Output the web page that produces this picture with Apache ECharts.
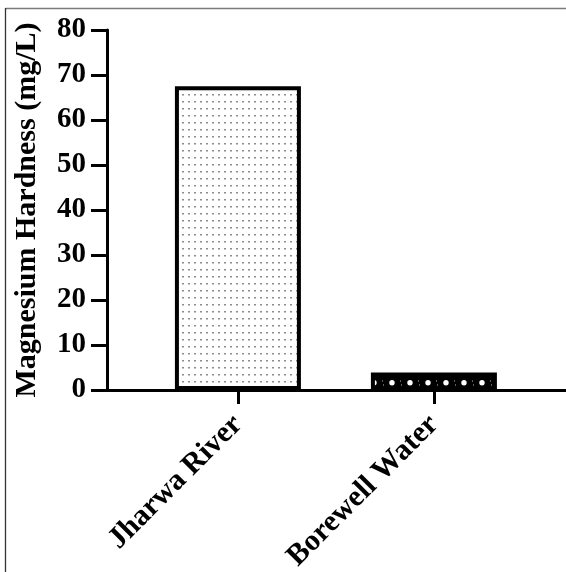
<!DOCTYPE html>
<html>
<head>
<meta charset="utf-8">
<script src="https://cdn.jsdelivr.net/npm/echarts@6/dist/echarts.min.js"></script>
<style>
  html, body { margin: 0; padding: 0; background: #fff; }
  #chart { width: 566px; height: 572px; }
</style>
</head>
<body>
<div id="chart"></div>
<script>
// Water samples and their magnesium hardness (mg/L)
const categories = ['Jharwa River', 'Borewell Water'];
const hardness = [67.5, 3.9];
const yTicks = [0, 10, 20, 30, 40, 50, 60, 70, 80];

const FONT = 'Liberation Serif';

// Fine grey dot stipple
function dotPattern() {
  const c = document.createElement('canvas');
  c.width = 6; c.height = 7;
  const g = c.getContext('2d');
  g.fillStyle = '#fff';
  g.fillRect(0, 0, 6, 7);
  g.fillStyle = '#8c8c8c';
  g.fillRect(2, 3, 2, 1.5);
  return c;
}

// Black fill with white round dots
function holePattern() {
  const c = document.createElement('canvas');
  c.width = 18; c.height = 18;
  const g = c.getContext('2d');
  g.fillStyle = '#000';
  g.fillRect(0, 0, 18, 18);
  g.fillStyle = '#fff';
  g.beginPath();
  g.arc(14, 4.7, 2.7, 0, Math.PI * 2);
  g.fill();
  g.fillStyle = '#bbb';
  g.fillRect(4, 2.5, 1, 1);
  g.fillRect(5, 6.5, 1, 1);
  return c;
}

const fills = [
  { image: dotPattern(), repeat: 'repeat' },
  { image: holePattern(), repeat: 'repeat' }
];

const idx = categories.map((_, i) => i);

const chart = echarts.init(document.getElementById('chart'), null, { renderer: 'canvas' });
chart.setOption({
  animation: false,
  backgroundColor: '#fff',
  grid: { left: 107, right: 0, top: 30, bottom: 182, containLabel: false, outerBoundsMode: 'none' },
  xAxis: {
    type: 'value',
    min: -0.668,
    max: 1.674,
    splitLine: { show: false },
    axisLine: { show: true, onZero: false, lineStyle: { color: '#000', width: 3 } },
    axisTick: { show: true, customValues: idx, length: 14, lineStyle: { color: '#000', width: 3 } },
    axisLabel: {
      customValues: idx,
      formatter: v => categories[Math.round(v)],
      rotate: 45,
      margin: 30,
      color: '#000',
      fontFamily: FONT,
      fontWeight: 'bold',
      fontSize: 30
    }
  },
  yAxis: {
    type: 'value',
    min: yTicks[0],
    max: yTicks[yTicks.length - 1],
    interval: 10,
    name: 'Magnesium Hardness (mg/L)',
    nameLocation: 'middle',
    nameRotate: 90,
    nameGap: 65,
    nameTextStyle: { color: '#000', fontFamily: FONT, fontWeight: 'bold', fontSize: 30 },
    splitLine: { show: false },
    axisLine: { show: true, onZero: false, lineStyle: { color: '#000', width: 3 } },
    axisTick: { show: true, length: 16, lineStyle: { color: '#000', width: 3 } },
    axisLabel: {
      margin: 21,
      color: '#000',
      fontFamily: FONT,
      fontWeight: 'bold',
      fontSize: 29
    }
  },
  series: [{
    type: 'bar',
    barWidth: 126,
    data: hardness.map((v, i) => ({
      value: [i, v],
      itemStyle: { color: fills[i], borderColor: '#000', borderWidth: 4 }
    }))
  }],
  graphic: [
    { type: 'line', shape: { x1: 5.5, y1: 8.5, x2: 566, y2: 8.5 }, style: { stroke: '#7a7a7a', lineWidth: 1.5 }, silent: true },
    { type: 'line', shape: { x1: 5.5, y1: 8, x2: 5.5, y2: 572 }, style: { stroke: '#333', lineWidth: 1.3 }, silent: true }
  ]
});
</script>
</body>
</html>
